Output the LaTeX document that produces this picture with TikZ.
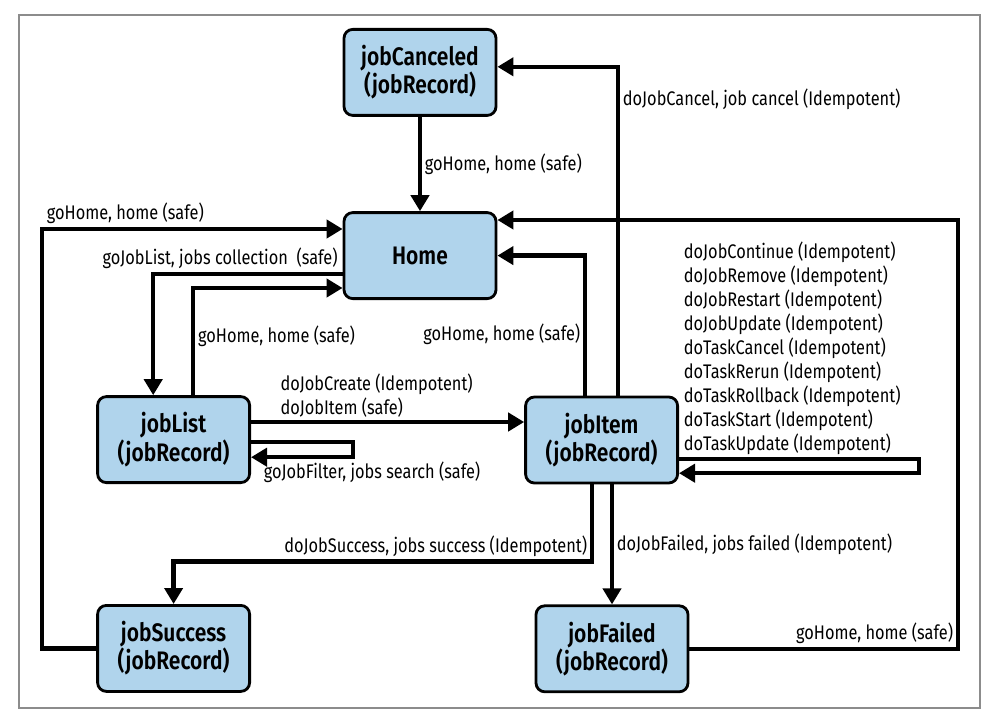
\documentclass[tikz,border=0pt]{standalone}
\usepackage{fontspec}
\setmainfont[FakeStretch=0.83, BoldFont={Fira Sans SemiBold}]{Fira Sans}
\usetikzlibrary{arrows.meta}
\definecolor{boxblue}{HTML}{B0D4EC}

\begin{document}
\begin{tikzpicture}[
        state/.style={draw, line width=2pt, fill=boxblue, rounded corners=0.22cm,
            minimum width=3.8cm, minimum height=2.15cm, align=center, inner sep=0pt,
            font=\fontsize{18}{20}\selectfont\bfseries},
        link/.style={line width=3pt, -{Triangle[length=0.4cm,width=0.45cm]}},
        lbl/.style={font=\fontsize{14}{17}\selectfont, inner sep=2pt}]
        \useasboundingbox (0,0) rectangle (24.8,18);
        \draw[gray!90, line width=1.4pt] (0.475,0.3) rectangle (24.5,17.625);

        \node[state] (canceled) at (10.5,16.19) {jobCanceled\\(jobRecord)};
        \node[state] (home) at (10.5,11.61) {Home};
        \node[state] (list) at (4.34,7.01) {jobList\\(jobRecord)};
        \node[state] (item) at (15.04,7.0) {jobItem\\(jobRecord)};
        \node[state] (success) at (4.34,1.79) {jobSuccess\\(jobRecord)};
        \node[state] (failed) at (15.3,1.78) {jobFailed\\(jobRecord)};
        \coordinate (rturn) at (23.95,12.5);
        \coordinate (lturn) at (1.05,12.275);

        \draw[link] (canceled) -- node[lbl, right] {goHome, home (safe)} (home);
        \draw[link] ([xshift=4.1mm]item.north) |- node[lbl, right, pos=0.45] {doJobCancel, job cancel (Idempotent)} ([yshift=1.4mm]canceled.east);
        \draw[link] ([xshift=-4.1mm]item.north) |- node[lbl, left, pos=0.22] {goHome, home (safe)} (home.east);
        \draw[link] (failed.east) -| node[lbl, above left, pos=0.5] {goHome, home (safe)} (rturn) -- (rturn -| home.east);
        \draw[link] (success.west) -| (lturn) -- node[lbl, above right, pos=0] {goHome, home (safe)} (lturn -| home.west);
        \draw[link] ([yshift=-4.6mm]home.west) -| node[lbl, above left, pos=0] {goJobList, jobs collection~ (safe)} ([xshift=-5.1mm]list.north);
        \draw[link] ([xshift=4.9mm]list.north) |- node[lbl, right, pos=0.275] {goHome, home (safe)} ([yshift=-8.1mm]home.west);
        \draw[link] ([yshift=4.4mm]list.east) -- node[lbl, above, pos=0.46, align=left] {doJobCreate (Idempotent)\\doJobItem (safe)} ([yshift=4.4mm]list.east -| item.west);
        \draw[link] ([yshift=-0.6mm]list.east) -- ++(2.55,0) |- node[lbl, below right, pos=1, xshift=2mm] {goJobFilter, jobs search (safe)} ([yshift=-4.4mm]list.east);
        \draw[link] ([yshift=-4.8mm]item.east) node[lbl, above right, align=left] {doJobContinue (Idempotent)\\doJobRemove (Idempotent)\\doJobRestart (Idempotent)\\doJobUpdate (Idempotent)\\doTaskCancel (Idempotent)\\doTaskRerun (Idempotent)\\doTaskRollback (Idempotent)\\doTaskStart (Idempotent)\\doTaskUpdate (Idempotent)} -- ++(6.0,0) |- ([yshift=-8.3mm]item.east);
        \draw[link] ([xshift=-2.4mm]item.south) -- ++(0,-1.925) node[lbl, above left] {doJobSuccess, jobs success (Idempotent)} -| (success.north);
        \draw[link] ([xshift=2.6mm]item.south) -- node[lbl, right] {doJobFailed, jobs failed (Idempotent)} ([xshift=2.6mm]item.south |- failed.north);
    \end{tikzpicture}
\end{document}
